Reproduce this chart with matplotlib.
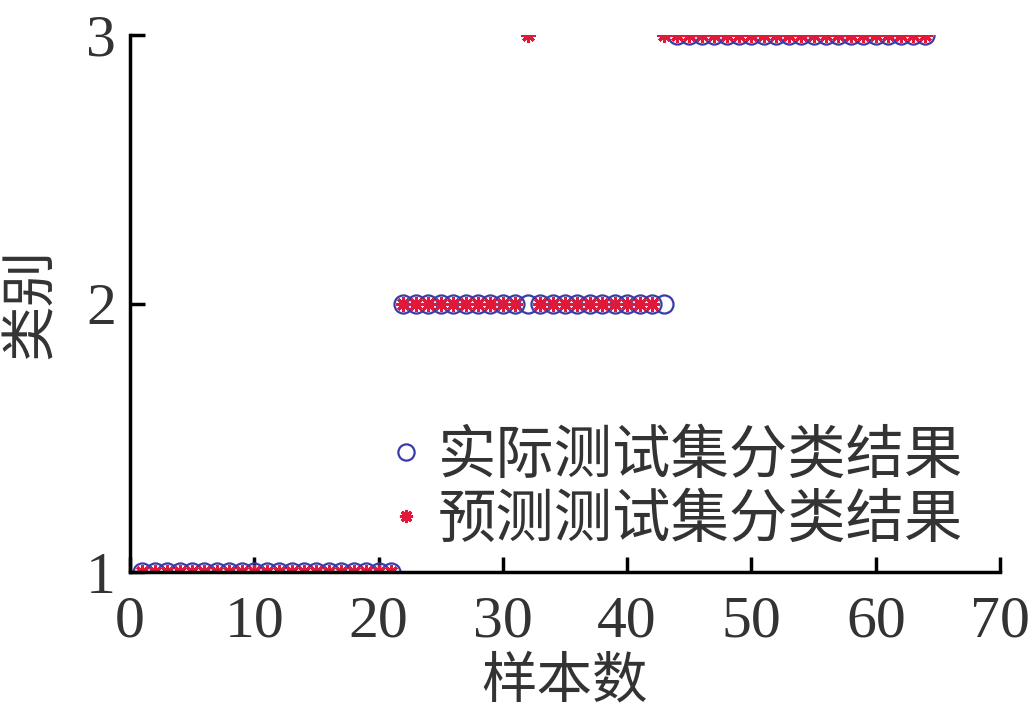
import numpy as np
import matplotlib
matplotlib.use("Agg")
from matplotlib import pyplot as plt

# samples 1..64, true class and predicted class
samples = np.arange(1, 65)
actual = [1] * 21 + [2] * 22 + [3] * 21
predicted = [1] * 21 + [2] * 10 + [3] + [2] * 10 + [3] + [3] * 21

x_ticks = [0, 10, 20, 30, 40, 50, 60, 70]
y_ticks = [1, 2, 3]

serif = ["Liberation Serif", "Noto Sans CJK SC"]
cjk = ["Noto Sans CJK SC", "Liberation Serif"]
txt = "#333333"

fig = plt.figure(figsize=(10.31, 7.17), dpi=100)
ax = fig.add_axes([0.126, 0.2022, 0.844, 0.7489])

ax.plot(samples, actual, "o", mfc="none", mec="#3a3aa8", mew=1.6, ms=13,
        label="实际测试集分类结果")
ax.plot(samples, predicted, ls="none", marker=(8, 2, 0), color="#e0183a",
        ms=10.5, mew=2.2, label="预测测试集分类结果")

ax.set_xlim(0, 70)
ax.set_ylim(1, 3)
ax.set_xticks(x_ticks)
ax.set_yticks(y_ticks)
ax.spines["top"].set_visible(False)
ax.spines["right"].set_visible(False)
for s in ("left", "bottom"):
    ax.spines[s].set_linewidth(2.5)
    ax.spines[s].set_clip_on(False)
ax.tick_params(direction="in", length=11, width=2.5, colors="black",
               labelcolor=txt)
ax.tick_params(axis="x", pad=17)
ax.tick_params(axis="y", pad=10)
for lab in ax.get_xticklabels() + ax.get_yticklabels():
    lab.set_fontfamily(serif)
    lab.set_fontsize(43)

ax.set_xlabel("样本数", family=cjk, fontsize=40, color=txt)
ax.xaxis.set_label_coords(0.5, -0.15, transform=ax.transAxes)
ax.xaxis.label.set_va("top")
ax.set_ylabel("类别", family=cjk, fontsize=40, color=txt)
ax.yaxis.set_label_coords(-0.082, 0.5, transform=ax.transAxes)

leg = ax.legend(loc="lower left", bbox_to_anchor=(0.3, 0.04), frameon=False,
                prop={"family": cjk, "size": 42}, handlelength=0.5,
                handletextpad=0.3, labelspacing=0.05, markerscale=0.9,
                borderpad=0, borderaxespad=0)
for t in leg.get_texts():
    t.set_color(txt)

fig.savefig("out.png", dpi=100)
